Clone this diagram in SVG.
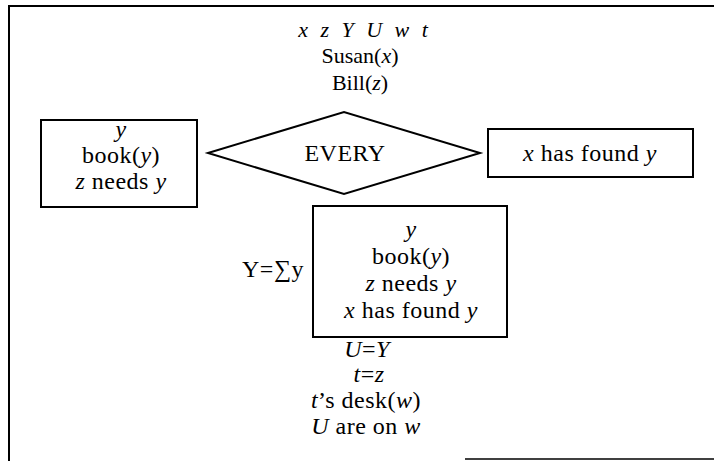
<svg xmlns="http://www.w3.org/2000/svg" width="714" height="461" viewBox="0 0 714 461">
<style>
text{font-family:"Liberation Serif","DejaVu Serif",serif;font-size:24px;letter-spacing:0.5px;fill:#000;text-anchor:middle}
.h{font-size:22px;letter-spacing:0}
.i{font-style:italic}
.b{fill:#fff;stroke:#000;stroke-width:2}
.f{fill:none;stroke:#000;stroke-width:2}
</style>
<g id="frame">
<path class="f" d="M9 461 V6 H714"/>
<path d="M465 459 H714" stroke="#000" stroke-width="1.5" fill="none"/>
</g>
<g id="header">
<text x="363" y="37" class="h i" word-spacing="7">x z Y U w t</text>
<text x="360" y="63" class="h">Susan(<tspan class="i">x</tspan>)</text>
<text x="360" y="90" class="h">Bill(<tspan class="i">z</tspan>)</text>
</g>
<g id="connectors"></g>
<g id="restrictor">
<rect class="b" x="41" y="120" width="156" height="87"/>
<text x="121" y="137" class="i">y</text>
<text x="121" y="163">book(<tspan class="i">y</tspan>)</text>
<text x="121" y="189"><tspan class="i">z</tspan> needs <tspan class="i">y</tspan></text>
</g>
<g id="every">
<polygon class="b" points="208,153 344,112 480,153 344,194"/>
<text x="345" y="161">EVERY</text>
</g>
<g id="scope">
<rect class="b" x="488" y="129" width="205" height="48"/>
<text x="590" y="161"><tspan class="i">x</tspan> has found <tspan class="i">y</tspan></text>
</g>
<g id="sum">
<text x="304" y="277" style="text-anchor:end">Y=∑y</text>
<rect class="b" x="313" y="206" width="194" height="131"/>
<text x="411" y="237" class="i">y</text>
<text x="411" y="264">book(<tspan class="i">y</tspan>)</text>
<text x="411" y="291"><tspan class="i">z</tspan> needs <tspan class="i">y</tspan></text>
<text x="411" y="318"><tspan class="i">x</tspan> has found <tspan class="i">y</tspan></text>
</g>
<g id="conditions">
<text x="367" y="357"><tspan class="i">U</tspan>=<tspan class="i">Y</tspan></text>
<text x="369" y="382"><tspan class="i">t</tspan>=<tspan class="i">z</tspan></text>
<text x="366" y="408"><tspan class="i">t</tspan>’s desk(<tspan class="i">w</tspan>)</text>
<text x="366" y="434"><tspan class="i">U</tspan> are on <tspan class="i">w</tspan></text>
</g>
</svg>
